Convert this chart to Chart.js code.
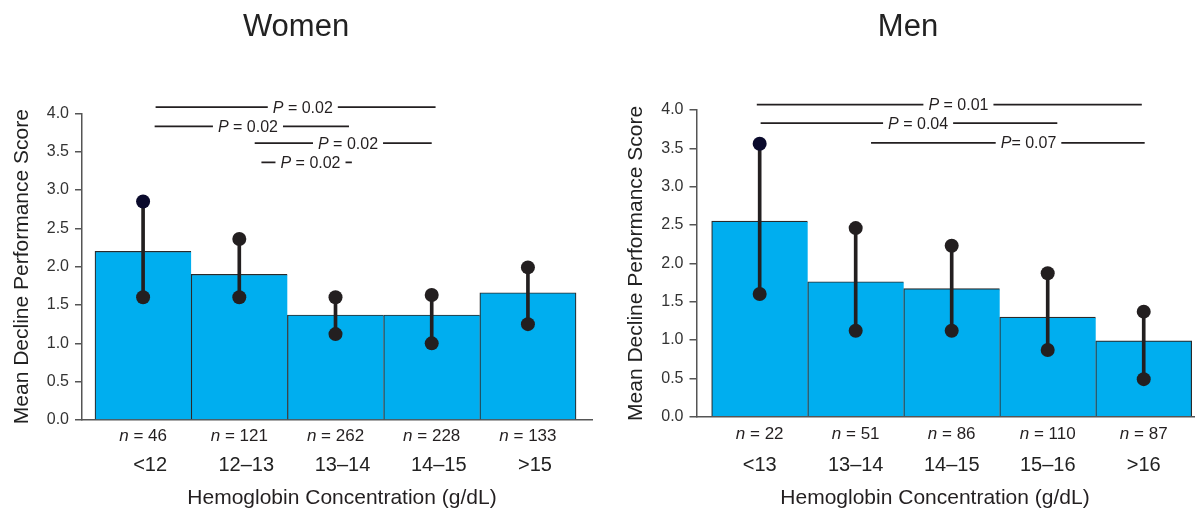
<!DOCTYPE html>
<html><head><meta charset="utf-8">
<script src="https://cdn.jsdelivr.net/npm/chart.js@4.4.1/dist/chart.umd.min.js"></script>
<style>
html,body{margin:0;padding:0;background:#fff;overflow:hidden;width:1195px;height:516px;position:relative;}
#w{position:absolute;left:0;top:0;}
#m{position:absolute;left:614px;top:0;}
</style></head><body>
<canvas id="w" width="600" height="516"></canvas>
<canvas id="m" width="588" height="516"></canvas>
<script>
// ---- data ----
const yTickValues = [0, 0.5, 1, 1.5, 2, 2.5, 3, 3.5, 4];

const womenCategories = ['<12', '12–13', '13–14', '14–15', '>15'];
const womenN = [46, 121, 262, 228, 133];
const womenMean = [2.20, 1.90, 1.37, 1.37, 1.66];
const womenLow = [1.60, 1.60, 1.12, 1.00, 1.25];
const womenHigh = [2.85, 2.36, 1.60, 1.63, 1.99];
const womenPText = ['P = 0.02', 'P = 0.02', 'P = 0.02', 'P = 0.02'];

const menCategories = ['<13', '13–14', '14–15', '15–16', '>16'];
const menN = [22, 51, 86, 110, 87];
const menMean = [2.55, 1.76, 1.67, 1.30, 0.99];
const menLow = [1.60, 1.12, 1.12, 0.87, 0.49];
const menHigh = [3.56, 2.46, 2.23, 1.87, 1.37];
const menPText = ['P = 0.01', 'P = 0.04', 'P= 0.07'];

// ---- layout (bracket placement in data units, chart geometry) ----
const FONT = '"Liberation Sans", Arial, Helvetica, sans-serif';
Chart.defaults.font.family = FONT;
const INK = '#231f20';

const womenLayout = {
  yWidth: 82, padRight: 8, titleBottom: 68.1, xHeight: 96, catPad: 33, labelOffset: 7,
  xMin: -0.635, xMax: 4.666, xTitleX: 342, nOffset: 21,
  brackets: [
    {from: 0.13, to: 3.04, level: 4.08, at: 1.66},
    {from: 0.12, to: 2.14, level: 3.83, at: 1.09},
    {from: 1.16, to: 3.00, level: 3.61, at: 2.13},
    {from: 1.23, to: 2.17, level: 3.36, at: 1.74}
  ]
};
const menLayout = {
  yWidth: 82.5, padRight: 0, titleBottom: 64.8, xHeight: 99.3, catPad: 36.3, labelOffset: 0,
  xMin: -0.658, xMax: 4.607, xTitleX: 321, nOffset: 22.3,
  brackets: [
    {from: -0.03, to: 3.98, level: 4.07, at: 2.07},
    {from: 0.01, to: 3.10, level: 3.83, at: 1.65},
    {from: 1.16, to: 4.01, level: 3.57, at: 2.80}
  ]
};

function italicFirst(ctx, text, cx, y, size) {
  const first = text.charAt(0), rest = text.slice(1);
  ctx.font = 'italic ' + size + 'px ' + FONT;
  const w1 = ctx.measureText(first).width;
  ctx.font = size + 'px ' + FONT;
  const w2 = ctx.measureText(rest).width;
  const x0 = cx - (w1 + w2) / 2;
  ctx.textAlign = 'left';
  ctx.textBaseline = 'alphabetic';
  ctx.font = 'italic ' + size + 'px ' + FONT;
  ctx.fillText(first, x0, y);
  ctx.font = size + 'px ' + FONT;
  ctx.fillText(rest, x0 + w1, y);
  return [x0, x0 + w1 + w2];
}

const annotPlugin = {
  id: 'annot',
  afterDraw(chart) {
    const o = chart.options.plugins.annot;
    const ctx = chart.ctx, xs = chart.scales.x, ys = chart.scales.y;
    ctx.save();
    ctx.fillStyle = INK;
    // n labels
    o.n.forEach((n, i) => {
      italicFirst(ctx, 'n = ' + n, xs.getPixelForValue(i), chart.chartArea.bottom + o.lay.nOffset, 17);
    });
    // x axis title
    ctx.font = '21px ' + FONT;
    ctx.textAlign = 'center';
    ctx.textBaseline = 'alphabetic';
    ctx.fillText('Hemoglobin Concentration (g/dL)', o.lay.xTitleX, 504);
    // P-value brackets
    ctx.strokeStyle = INK;
    ctx.lineWidth = 1.8;
    o.lay.brackets.forEach((b, i) => {
      const y = ys.getPixelForValue(b.level);
      const [tl, tr] = italicFirst(ctx, o.p[i], xs.getPixelForValue(b.at), y + 5.5, 16);
      const x1 = xs.getPixelForValue(b.from), x2 = xs.getPixelForValue(b.to);
      ctx.beginPath();
      ctx.moveTo(x1, y); ctx.lineTo(tl - 5, y);
      ctx.moveTo(tr + 5, y); ctx.lineTo(x2, y);
      ctx.stroke();
    });
    ctx.restore();
  }
};

function makeChart(id, title, cats, n, mean, low, high, pText, lay) {
  const idx = cats.map((_, i) => i);
  const last = cats.length - 1;
  return new Chart(document.getElementById(id), {
    type: 'bar',
    plugins: [annotPlugin],
    data: {
      datasets: [
        { type: 'line', data: idx.map(i => ({x: i, y: high[i]})), showLine: false,
          pointRadius: 7, pointHoverRadius: 7, pointBorderWidth: 0,
          pointBackgroundColor: idx.map(i => i === 0 ? '#0a0a2c' : INK), order: 1 },
        { type: 'line', data: idx.map(i => ({x: i, y: low[i]})), showLine: false,
          pointRadius: 7, pointHoverRadius: 7, pointBorderWidth: 0,
          pointBackgroundColor: INK, order: 1 },
        { type: 'bar', data: idx.map(i => ({x: i, y: [low[i], high[i]]})), grouped: false,
          barPercentage: 1, categoryPercentage: 1, maxBarThickness: 3,
          backgroundColor: INK, borderWidth: 0, order: 2 },
        { type: 'bar', data: idx.map(i => ({x: i, y: mean[i]})), grouped: false,
          barPercentage: 1, categoryPercentage: 1,
          backgroundColor: '#00aeef', borderColor: '#2a2a2a',
          borderWidth: c => ({top: 1.2, left: 1.2, bottom: 0, right: c.dataIndex === last ? 1.2 : 0}),
          order: 3 }
      ]
    },
    options: {
      responsive: false, animation: false, events: [],
      layout: {autoPadding: false, padding: {left: 0, right: lay.padRight, top: 0, bottom: 0}},
      plugins: {
        legend: {display: false}, tooltip: {enabled: false},
        title: {display: true, text: title, color: '#222',
                font: {size: 31, weight: 'normal'}, padding: {top: 9, bottom: lay.titleBottom - 1}},
        annot: {n: n, p: pText, lay: lay}
      },
      scales: {
        x: {
          type: 'linear', min: lay.xMin, max: lay.xMax, offset: false,
          afterBuildTicks: s => { s.ticks = idx.map(v => ({value: v})); },
          afterFit: s => { s.height = lay.xHeight; s.paddingLeft = 0; s.paddingRight = 0; },
          ticks: {autoSkip: false, maxRotation: 0, padding: 0, labelOffset: lay.labelOffset,
                  font: {size: 20}, color: '#222', callback: v => cats[v]},
          grid: {display: true, drawOnChartArea: false, drawTicks: true, tickLength: lay.catPad,
                 tickColor: 'rgba(0,0,0,0)'},
          border: {display: true, color: '#555', width: 1.5}
        },
        y: {
          min: 0, max: 4,
          afterBuildTicks: s => { s.ticks = yTickValues.map(v => ({value: v})); },
          afterFit: s => { s.width = lay.yWidth; },
          ticks: {padding: 6, font: {size: 16}, color: '#333', callback: v => v.toFixed(1)},
          grid: {drawOnChartArea: false, drawTicks: true, tickLength: 7, color: '#555', lineWidth: 1.5},
          border: {display: true, color: '#555', width: 1.5},
          title: {display: true, text: 'Mean Decline Performance Score', color: '#222',
                  font: {size: 21}, padding: {top: 10, bottom: 0}}
        }
      }
    }
  });
}

makeChart('w', 'Women', womenCategories, womenN, womenMean, womenLow, womenHigh, womenPText, womenLayout);
makeChart('m', 'Men', menCategories, menN, menMean, menLow, menHigh, menPText, menLayout);
</script>
</body></html>
